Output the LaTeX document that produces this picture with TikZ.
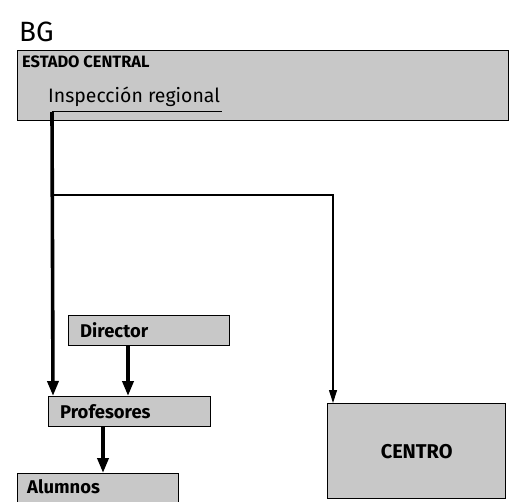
\documentclass[tikz,border=0pt]{standalone}
\usepackage{fontspec}
\setmainfont{Fira Sans}
\usetikzlibrary{arrows.meta,positioning,calc}
\definecolor{boxgray}{RGB}{200,200,200}

\begin{document}
\begin{tikzpicture}[x=1bp,y=-1bp,>={Triangle[length=15bp,width=11bp]}]
\tikzstyle{orgbox}=[draw=black,line width=1.3bp,fill=boxgray,anchor=north west,inner sep=0pt]
\tikzstyle{orglabel}=[anchor=west,font=\fontsize{18.5}{20}\selectfont\bfseries,inner sep=0pt]
\tikzstyle{bigflow}=[->,line width=3.6bp]
\tikzstyle{thinflow}=[-{Triangle[length=13bp,width=8bp]},line width=1.1bp]
\useasboundingbox (0,0) rectangle (510,502);

\node[anchor=base west,inner sep=0pt,font=\fontsize{28}{30}\selectfont] (bg) at (19,42) {BG};

\node[orgbox,minimum width=491bp,minimum height=70bp] (estado) at (17,50) {};
\node[orglabel,font=\fontsize{16.5}{18}\selectfont\bfseries] (estadotxt) at (22,62) {ESTADO CENTRAL};
\node[orglabel,font=\fontsize{19.5}{21}\selectfont,anchor=base west] (insp) at (48,103) {Inspección regional};
\coordinate (ulstart) at (52,112);
\coordinate (ulend) at (222,112);
\draw[line width=1bp] (ulstart) -- (ulend);

\node[orgbox,minimum width=161bp,minimum height=30bp] (director) at (68,315) {};
\node[orglabel] at ($(director.west)+(12,0)$) {Director};
\node[orgbox,minimum width=162bp,minimum height=30bp] (prof) at (48,396) {};
\node[orglabel] at ($(prof.west)+(12,0)$) {Profesores};
\node[orgbox,minimum width=161bp,minimum height=32bp] (alumnos) at (17,473) {};
\node[orglabel] at ($(alumnos.west)+(10,-3)$) {Alumnos};
\node[orgbox,minimum width=178bp,minimum height=95bp] (centro) at (327,403) {};
\node[orglabel,anchor=center,font=\fontsize{20}{22}\selectfont\bfseries] at (centro.center) {CENTRO};

\coordinate (branch) at (53,195);
\draw[bigflow] (ulstart) -- ($(prof.north west)+(5,0)$);
\draw[thinflow] (branch) -| ($(centro.north west)+(6,0)$);
\draw[bigflow] ($(director.south west)+(60,0)$) -- ($(prof.north west)+(80,0)$);
\draw[bigflow] ($(prof.south west)+(55,0)$) -- ($(alumnos.north west)+(86,0)$);
\end{tikzpicture}
\end{document}
